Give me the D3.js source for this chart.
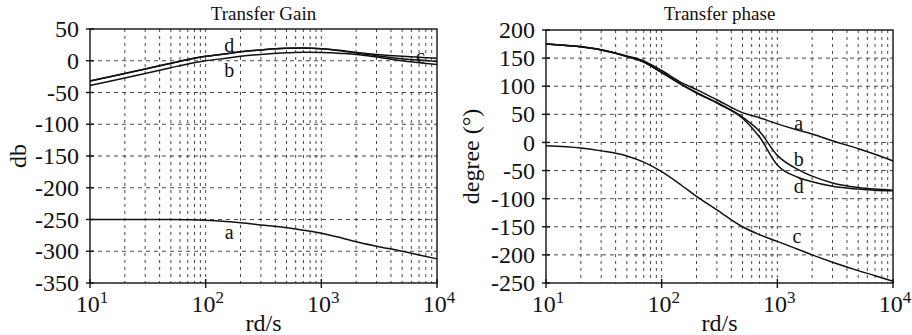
<!DOCTYPE html>
<html>
<head>
<meta charset="utf-8">
<script src="https://cdnjs.cloudflare.com/ajax/libs/d3/7.8.5/d3.min.js"></script>
<style>
  body { margin: 0; background: #fff; }
  text { font-family: "Liberation Serif", "DejaVu Serif", serif; fill: #111; }
</style>
</head>
<body>
<svg id="chart" width="912" height="335"></svg>
<script>
// frequencies (rd/s) the curves were read at
var freq = [10, 20, 30, 50, 70, 100, 150, 200, 300, 500, 700, 1000, 1500, 2000, 3000, 5000, 7000, 10000];

// transfer gain (db)
var gainA = [-250, -250, -250, -250, -250.3, -251, -253, -255, -258.5, -263, -267, -271.5, -279, -285, -292, -300, -306, -312];
var gainB = [-39, -27, -20, -11, -5, 0, 4, 7, 10, 12.5, 13.5, 13, 11.5, 10, 6, 0, -3, -6];
var gainC = [-32, -20, -13, -4, 2, 7, 11, 14, 17, 19.5, 20, 19, 16, 13, 10, 7, 5.5, 4];
var gainD = [-32, -20, -13, -4, 2, 7, 11, 14, 17, 19.5, 20, 19, 15.5, 12, 8, 3, 1, -1];

// transfer phase (degree)
var phaseA = [175, 170, 165, 154, 145, 128, 106, 94, 76, 53, 44, 33, 22, 15, 3, -11, -21, -33];
var phaseB = [175, 170, 164.5, 153, 143, 125, 103, 89, 71, 45, 20, -23, -48, -60, -72, -80, -83, -85];
var phaseC = [-6, -10, -15, -24, -35, -52, -77, -96, -120, -150, -164, -176, -190, -200, -213, -228, -237, -247];
var phaseD = [175, 170, 164.5, 153, 143, 124, 102, 88, 70, 43, 10, -40, -62, -70, -78, -83, -85, -86];

// axis ticks
var gainTicks = [50, 0, -50, -100, -150, -200, -250, -300, -350];
var phaseTicks = [200, 150, 100, 50, 0, -50, -100, -150, -200, -250];
var decades = [1, 2, 3, 4];

var svg = d3.select("#chart");

function draw_panel(opt) {
    var x = d3.scaleLog().domain([10, 10000]).range([opt.left, opt.right]);
    var y = d3.scaleLinear().domain(opt.ydomain).range([opt.bottom, opt.top]);

    //grid, minor log lines
    var vgrid = [];
    [10, 100, 1000].forEach(function(b) {
        for (var k = 1; k <= 9; k++) {
            if (b * k > 10 && b * k < 10000) vgrid.push(b * k);
        }
    });
    svg.append("g").selectAll("line")
        .data(vgrid).enter()
        .append("line")
        .attr("x1", d => x(d)).attr("x2", d => x(d))
        .attr("y1", opt.top).attr("y2", opt.bottom)
        .attr("stroke", "#333")
        .attr("stroke-width", 0.9)
        .attr("stroke-dasharray", "3,4");

    //grid, horizontal
    svg.append("g").selectAll("line")
        .data(opt.ticks.filter(d => d > opt.ydomain[0] && d < opt.ydomain[1])).enter()
        .append("line")
        .attr("x1", opt.left).attr("x2", opt.right)
        .attr("y1", d => y(d)).attr("y2", d => y(d))
        .attr("stroke", "#333")
        .attr("stroke-width", 0.9)
        .attr("stroke-dasharray", "4,4");

    //frame
    svg.append("rect")
        .attr("x", opt.left).attr("y", opt.top)
        .attr("width", opt.right - opt.left)
        .attr("height", opt.bottom - opt.top)
        .attr("fill", "none")
        .attr("stroke", "#111")
        .attr("stroke-width", 1.4);

    //y ticks and labels
    svg.append("g").selectAll("line")
        .data(opt.ticks).enter()
        .append("line")
        .attr("x1", opt.left - 4).attr("x2", opt.left + 4)
        .attr("y1", d => y(d)).attr("y2", d => y(d))
        .attr("stroke", "#111")
        .attr("stroke-width", 1.4);
    svg.append("g").selectAll("text")
        .data(opt.ticks).enter()
        .append("text")
        .attr("x", opt.left - 11)
        .attr("y", d => y(d))
        .attr("dy", "0.34em")
        .attr("text-anchor", "end")
        .attr("font-size", 24)
        .text(d => d);

    //x ticks and labels
    svg.append("g").selectAll("line")
        .data(decades).enter()
        .append("line")
        .attr("x1", d => x(Math.pow(10, d))).attr("x2", d => x(Math.pow(10, d)))
        .attr("y1", opt.bottom - 4).attr("y2", opt.bottom + 5)
        .attr("stroke", "#111")
        .attr("stroke-width", 1.4);
    var xl = svg.append("g").selectAll("text")
        .data(decades).enter()
        .append("text")
        .attr("x", d => x(Math.pow(10, d)) + 2)
        .attr("y", 312)
        .attr("text-anchor", "middle")
        .attr("font-size", 24);
    xl.append("tspan").text("10");
    xl.append("tspan")
        .attr("dy", -9)
        .attr("font-size", 17)
        .text(d => d);

    //titles
    svg.append("text")
        .attr("x", (opt.left + opt.right) / 2)
        .attr("y", 20)
        .attr("text-anchor", "middle")
        .attr("font-size", 19)
        .text(opt.title);
    svg.append("text")
        .attr("x", (opt.left + opt.right) / 2)
        .attr("y", 331)
        .attr("text-anchor", "middle")
        .attr("font-size", 24)
        .text("rd/s");
    svg.append("text")
        .attr("transform", "translate(" + opt.ylabelX + "," + ((opt.top + opt.bottom) / 2) + ") rotate(-90)")
        .attr("text-anchor", "middle")
        .attr("font-size", 24)
        .text(opt.ylabel);

    //curves
    var line = d3.line()
        .x(d => x(d[0]))
        .y(d => y(d[1]))
        .curve(d3.curveMonotoneX);
    opt.series.forEach(function(s) {
        svg.append("path")
            .datum(freq.map((f, i) => [f, s.values[i]]))
            .attr("d", line)
            .attr("fill", "none")
            .attr("stroke", "#111")
            .attr("stroke-width", 1.5);
    });

    //curve letters
    opt.labels.forEach(function(l) {
        svg.append("text")
            .attr("x", x(l.f))
            .attr("y", l.by)
            .attr("text-anchor", "middle")
            .attr("font-size", 20)
            .text(l.name);
    });
}

draw_panel({
    left: 90, right: 437, top: 29, bottom: 283,
    ydomain: [-350, 50], ticks: gainTicks,
    title: "Transfer Gain", ylabel: "db", ylabelX: 26,
    series: [{values: gainA}, {values: gainB}, {values: gainC}, {values: gainD}],
    labels: [{name: "d", f: 160, by: 52}, {name: "b", f: 160, by: 77},
             {name: "c", f: 7200, by: 63}, {name: "a", f: 160, by: 239}]
});

draw_panel({
    left: 546, right: 893, top: 30, bottom: 283,
    ydomain: [-250, 200], ticks: phaseTicks,
    title: "Transfer phase", ylabel: "degree (\u00b0)", ylabelX: 479,
    series: [{values: phaseA}, {values: phaseB}, {values: phaseC}, {values: phaseD}],
    labels: [{name: "a", f: 1530, by: 130}, {name: "b", f: 1530, by: 166},
             {name: "d", f: 1530, by: 193}, {name: "c", f: 1480, by: 243}]
});
</script>
</body>
</html>
